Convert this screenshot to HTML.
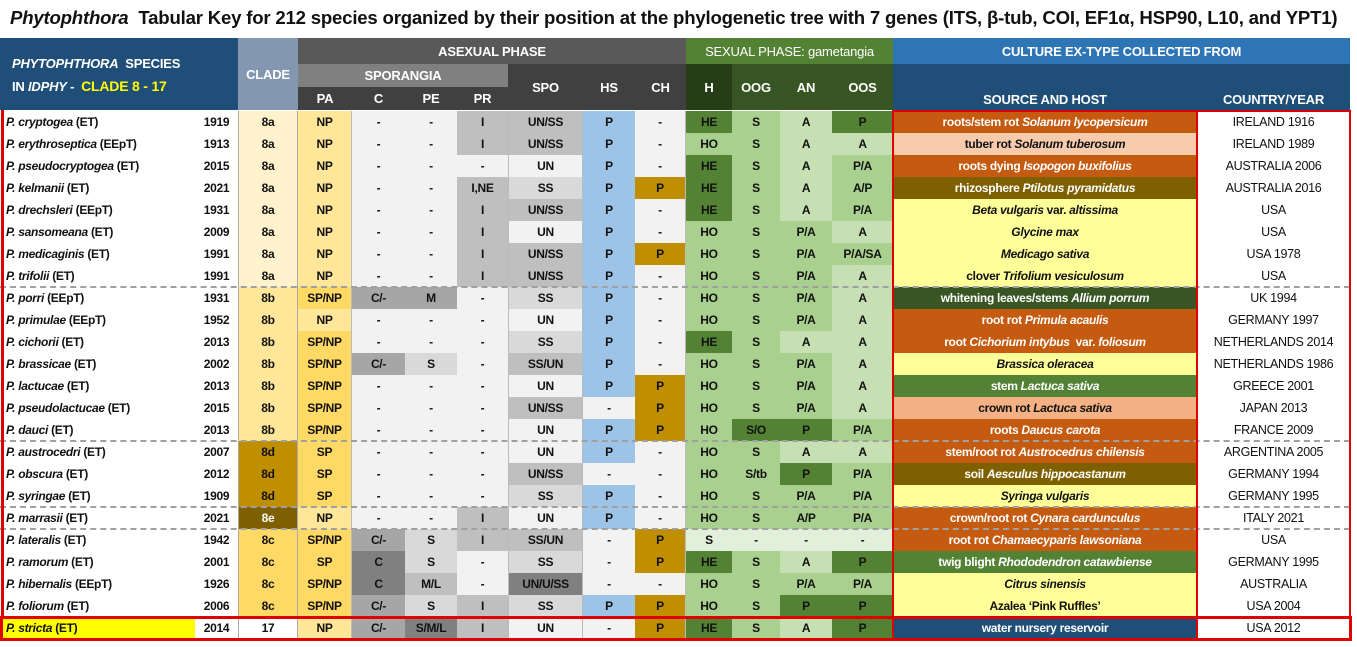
<!DOCTYPE html>
<html><head><meta charset="utf-8"><style>
*{margin:0;padding:0;box-sizing:border-box}
body{width:1357px;height:647px;background:#fff;position:relative;overflow:hidden;font-family:"Liberation Sans",sans-serif;color:#111}
.t{position:absolute;left:10px;top:7px;font-size:18.6px;font-weight:bold;white-space:nowrap;letter-spacing:-0.2px}
.h{position:absolute;color:#fff;font-weight:bold;font-size:13px;display:flex;align-items:center;justify-content:center;white-space:nowrap;letter-spacing:-0.2px}
.r{position:absolute;left:0;height:22px;display:flex;width:1350px}
.r div{height:22px;display:flex;align-items:center;justify-content:center;font-size:12px;font-weight:bold;white-space:nowrap;letter-spacing:-0.3px;flex:none}
.r .n{width:195px;justify-content:flex-start;padding-left:6px;background:#fff}
.r .y{width:43px;background:#fff}
.c0{width:60px;border-left:1px solid #aaa;border-right:1px solid #aaa}.c1{width:54px;border-right:1px solid #bbb}.c2{width:53px}.c3{width:52px}.c4{width:51px}.c5{width:75px;border-left:1px solid #bbb;border-right:1px solid #bbb}.c6{width:52px}.c7{width:51px;border-right:1px solid #bbb}.c8{width:46px}.c9{width:48px}.c10{width:52px}.c11{width:61px}.c12{width:304px;font-weight:bold}.r .c13{width:153px;background:#fff;font-weight:normal;font-size:12.5px}
.A{background:#fff2cc}.B{background:#ffe699}.D{background:#bf8f00}.E{background:#7f6000;color:#fff}.C{background:#ffd966}.W{background:#fff}
.l{background:#f2f2f2}.g1{background:#d9d9d9}.g2{background:#bfbfbf}.g3{background:#a6a6a6}.g4{background:#808080}
.bl{background:#9dc3e6}.ch{background:#bf8f00}
.G1{background:#548235}.G2{background:#a9d08e}.G3{background:#c6e0b4}.G4{background:#e2efda}
.so{background:#c55a11;color:#fff}.sp{background:#f8cbad}.sb{background:#7f6000;color:#fff}.sy{background:#ffff99}.sd{background:#375623;color:#fff}.sg{background:#548235;color:#fff}.ss{background:#f4b183}.sn{background:#1f4e79;color:#fff}
.dash{position:absolute;left:0;width:1350px;border-top:2px dashed #a0a0a0;height:0}
</style></head><body>
<div class="t"><i>Phytophthora</i>&nbsp; Tabular Key for 212 species organized by their position at the phylogenetic tree with 7 genes (ITS, β-tub, COI, EF1α, HSP90, L10, and YPT1)</div>

<div class="h" style="left:0;top:38px;width:238px;height:72px;background:#1f4e79"></div>
<div class="h" style="left:12px;top:54px;height:18px;font-size:13px"><i>PHYTOPHTHORA</i>&nbsp; SPECIES</div>
<div class="h" style="left:12px;top:77px;height:18px;font-size:13px">IN&nbsp;<i>IDPHY</i>&nbsp;-&nbsp;&nbsp;<span style="color:#ffff00;font-size:14px">CLADE 8 - 17</span></div>
<div class="h" style="left:238px;top:38px;width:60px;height:72px;background:#8497b0;font-size:13px">CLADE</div>
<div class="h" style="left:298px;top:38px;width:388px;height:26px;background:#595959">ASEXUAL PHASE</div>
<div class="h" style="left:298px;top:64px;width:210px;height:23px;background:#808080">SPORANGIA</div>
<div class="h" style="left:298px;top:87px;width:54px;height:23px;background:#404040">PA</div>
<div class="h" style="left:352px;top:87px;width:53px;height:23px;background:#404040">C</div>
<div class="h" style="left:405px;top:87px;width:52px;height:23px;background:#404040">PE</div>
<div class="h" style="left:457px;top:87px;width:51px;height:23px;background:#404040">PR</div>
<div class="h" style="left:508px;top:64px;width:75px;height:46px;background:#404040">SPO</div>
<div class="h" style="left:583px;top:64px;width:52px;height:46px;background:#404040">HS</div>
<div class="h" style="left:635px;top:64px;width:51px;height:46px;background:#404040">CH</div>
<div class="h" style="left:686px;top:38px;width:207px;height:26px;background:#548235;font-weight:normal">SEXUAL PHASE: gametangia</div>
<div class="h" style="left:686px;top:64px;width:46px;height:46px;background:#263d17">H</div>
<div class="h" style="left:732px;top:64px;width:48px;height:46px;background:#375623">OOG</div>
<div class="h" style="left:780px;top:64px;width:52px;height:46px;background:#375623">AN</div>
<div class="h" style="left:832px;top:64px;width:61px;height:46px;background:#375623">OOS</div>
<div class="h" style="left:893px;top:38px;width:457px;height:26px;background:#2e75b6">CULTURE EX-TYPE COLLECTED FROM</div>
<div class="h" style="left:893px;top:64px;width:457px;height:46px;background:#1f4e79"></div>
<div class="h" style="left:893px;top:88px;width:304px;height:22px">SOURCE AND HOST</div>
<div class="h" style="left:1197px;top:88px;width:153px;height:22px">COUNTRY/YEAR</div>

<div class="r" style="top:111px"><div class="n"><i>P. cryptogea</i>&nbsp;(ET)</div><div class="y">1919</div><div class="c0 A">8a</div><div class="c1 B">NP</div><div class="c2 l">-</div><div class="c3 l">-</div><div class="c4 g2">I</div><div class="c5 g2">UN/SS</div><div class="c6 bl">P</div><div class="c7 l">-</div><div class="c8 G1">HE</div><div class="c9 G2">S</div><div class="c10 G3">A</div><div class="c11 G1">P</div><div class="c12 so">roots/stem rot&nbsp;<i>Solanum lycopersicum</i></div><div class="c13">IRELAND 1916</div></div>
<div class="r" style="top:133px"><div class="n"><i>P. erythroseptica</i>&nbsp;(EEpT)</div><div class="y">1913</div><div class="c0 A">8a</div><div class="c1 B">NP</div><div class="c2 l">-</div><div class="c3 l">-</div><div class="c4 g2">I</div><div class="c5 g2">UN/SS</div><div class="c6 bl">P</div><div class="c7 l">-</div><div class="c8 G2">HO</div><div class="c9 G2">S</div><div class="c10 G3">A</div><div class="c11 G3">A</div><div class="c12 sp">tuber rot&nbsp;<i>Solanum tuberosum</i></div><div class="c13">IRELAND 1989</div></div>
<div class="r" style="top:155px"><div class="n"><i>P. pseudocryptogea</i>&nbsp;(ET)</div><div class="y">2015</div><div class="c0 A">8a</div><div class="c1 B">NP</div><div class="c2 l">-</div><div class="c3 l">-</div><div class="c4 l">-</div><div class="c5 l">UN</div><div class="c6 bl">P</div><div class="c7 l">-</div><div class="c8 G1">HE</div><div class="c9 G2">S</div><div class="c10 G3">A</div><div class="c11 G2">P/A</div><div class="c12 so">roots dying&nbsp;<i>Isopogon buxifolius</i></div><div class="c13">AUSTRALIA 2006</div></div>
<div class="r" style="top:177px"><div class="n"><i>P. kelmanii</i>&nbsp;(ET)</div><div class="y">2021</div><div class="c0 A">8a</div><div class="c1 B">NP</div><div class="c2 l">-</div><div class="c3 l">-</div><div class="c4 g2">I,NE</div><div class="c5 g1">SS</div><div class="c6 bl">P</div><div class="c7 ch">P</div><div class="c8 G1">HE</div><div class="c9 G2">S</div><div class="c10 G3">A</div><div class="c11 G2">A/P</div><div class="c12 sb">rhizosphere&nbsp;<i>Ptilotus pyramidatus</i></div><div class="c13">AUSTRALIA 2016</div></div>
<div class="r" style="top:199px"><div class="n"><i>P. drechsleri</i>&nbsp;(EEpT)</div><div class="y">1931</div><div class="c0 A">8a</div><div class="c1 B">NP</div><div class="c2 l">-</div><div class="c3 l">-</div><div class="c4 g2">I</div><div class="c5 g2">UN/SS</div><div class="c6 bl">P</div><div class="c7 l">-</div><div class="c8 G1">HE</div><div class="c9 G2">S</div><div class="c10 G3">A</div><div class="c11 G2">P/A</div><div class="c12 sy"><i>Beta vulgaris</i>&nbsp;var.&nbsp;<i>altissima</i></div><div class="c13">USA</div></div>
<div class="r" style="top:221px"><div class="n"><i>P. sansomeana</i>&nbsp;(ET)</div><div class="y">2009</div><div class="c0 A">8a</div><div class="c1 B">NP</div><div class="c2 l">-</div><div class="c3 l">-</div><div class="c4 g2">I</div><div class="c5 l">UN</div><div class="c6 bl">P</div><div class="c7 l">-</div><div class="c8 G2">HO</div><div class="c9 G2">S</div><div class="c10 G2">P/A</div><div class="c11 G3">A</div><div class="c12 sy"><i>Glycine max</i></div><div class="c13">USA</div></div>
<div class="r" style="top:243px"><div class="n"><i>P. medicaginis</i>&nbsp;(ET)</div><div class="y">1991</div><div class="c0 A">8a</div><div class="c1 B">NP</div><div class="c2 l">-</div><div class="c3 l">-</div><div class="c4 g2">I</div><div class="c5 g2">UN/SS</div><div class="c6 bl">P</div><div class="c7 ch">P</div><div class="c8 G2">HO</div><div class="c9 G2">S</div><div class="c10 G2">P/A</div><div class="c11 G2">P/A/SA</div><div class="c12 sy"><i>Medicago sativa</i></div><div class="c13">USA 1978</div></div>
<div class="r" style="top:265px"><div class="n"><i>P. trifolii</i>&nbsp;(ET)</div><div class="y">1991</div><div class="c0 A">8a</div><div class="c1 B">NP</div><div class="c2 l">-</div><div class="c3 l">-</div><div class="c4 g2">I</div><div class="c5 g2">UN/SS</div><div class="c6 bl">P</div><div class="c7 l">-</div><div class="c8 G2">HO</div><div class="c9 G2">S</div><div class="c10 G2">P/A</div><div class="c11 G3">A</div><div class="c12 sy">clover&nbsp;<i>Trifolium vesiculosum</i></div><div class="c13">USA</div></div>

<div class="r" style="top:287px"><div class="n"><i>P. porri</i>&nbsp;(EEpT)</div><div class="y">1931</div><div class="c0 B">8b</div><div class="c1 C">SP/NP</div><div class="c2 g3">C/-</div><div class="c3 g3">M</div><div class="c4 l">-</div><div class="c5 g1">SS</div><div class="c6 bl">P</div><div class="c7 l">-</div><div class="c8 G2">HO</div><div class="c9 G2">S</div><div class="c10 G2">P/A</div><div class="c11 G3">A</div><div class="c12 sd">whitening leaves/stems&nbsp;<i>Allium porrum</i></div><div class="c13">UK 1994</div></div>
<div class="r" style="top:309px"><div class="n"><i>P. primulae</i>&nbsp;(EEpT)</div><div class="y">1952</div><div class="c0 B">8b</div><div class="c1 B">NP</div><div class="c2 l">-</div><div class="c3 l">-</div><div class="c4 l">-</div><div class="c5 l">UN</div><div class="c6 bl">P</div><div class="c7 l">-</div><div class="c8 G2">HO</div><div class="c9 G2">S</div><div class="c10 G2">P/A</div><div class="c11 G3">A</div><div class="c12 so">root rot&nbsp;<i>Primula acaulis</i></div><div class="c13">GERMANY 1997</div></div>
<div class="r" style="top:331px"><div class="n"><i>P. cichorii</i>&nbsp;(ET)</div><div class="y">2013</div><div class="c0 B">8b</div><div class="c1 C">SP/NP</div><div class="c2 l">-</div><div class="c3 l">-</div><div class="c4 l">-</div><div class="c5 g1">SS</div><div class="c6 bl">P</div><div class="c7 l">-</div><div class="c8 G1">HE</div><div class="c9 G2">S</div><div class="c10 G3">A</div><div class="c11 G3">A</div><div class="c12 so">root&nbsp;<i>Cichorium intybus</i>&nbsp; var.&nbsp;<i>foliosum</i></div><div class="c13">NETHERLANDS 2014</div></div>
<div class="r" style="top:353px"><div class="n"><i>P. brassicae</i>&nbsp;(ET)</div><div class="y">2002</div><div class="c0 B">8b</div><div class="c1 C">SP/NP</div><div class="c2 g3">C/-</div><div class="c3 g1">S</div><div class="c4 l">-</div><div class="c5 g2">SS/UN</div><div class="c6 bl">P</div><div class="c7 l">-</div><div class="c8 G2">HO</div><div class="c9 G2">S</div><div class="c10 G2">P/A</div><div class="c11 G3">A</div><div class="c12 sy"><i>Brassica oleracea</i></div><div class="c13">NETHERLANDS 1986</div></div>
<div class="r" style="top:375px"><div class="n"><i>P. lactucae</i>&nbsp;(ET)</div><div class="y">2013</div><div class="c0 B">8b</div><div class="c1 C">SP/NP</div><div class="c2 l">-</div><div class="c3 l">-</div><div class="c4 l">-</div><div class="c5 l">UN</div><div class="c6 bl">P</div><div class="c7 ch">P</div><div class="c8 G2">HO</div><div class="c9 G2">S</div><div class="c10 G2">P/A</div><div class="c11 G3">A</div><div class="c12 sg">stem&nbsp;<i>Lactuca sativa</i></div><div class="c13">GREECE 2001</div></div>
<div class="r" style="top:397px"><div class="n"><i>P. pseudolactucae</i>&nbsp;(ET)</div><div class="y">2015</div><div class="c0 B">8b</div><div class="c1 C">SP/NP</div><div class="c2 l">-</div><div class="c3 l">-</div><div class="c4 l">-</div><div class="c5 g2">UN/SS</div><div class="c6 l">-</div><div class="c7 ch">P</div><div class="c8 G2">HO</div><div class="c9 G2">S</div><div class="c10 G2">P/A</div><div class="c11 G3">A</div><div class="c12 ss">crown rot&nbsp;<i>Lactuca sativa</i></div><div class="c13">JAPAN 2013</div></div>
<div class="r" style="top:419px"><div class="n"><i>P. dauci</i>&nbsp;(ET)</div><div class="y">2013</div><div class="c0 B">8b</div><div class="c1 C">SP/NP</div><div class="c2 l">-</div><div class="c3 l">-</div><div class="c4 l">-</div><div class="c5 l">UN</div><div class="c6 bl">P</div><div class="c7 ch">P</div><div class="c8 G2">HO</div><div class="c9 G1">S/O</div><div class="c10 G1">P</div><div class="c11 G2">P/A</div><div class="c12 so">roots&nbsp;<i>Daucus carota</i></div><div class="c13">FRANCE 2009</div></div>

<div class="r" style="top:441px"><div class="n"><i>P. austrocedri</i>&nbsp;(ET)</div><div class="y">2007</div><div class="c0 D">8d</div><div class="c1 C">SP</div><div class="c2 l">-</div><div class="c3 l">-</div><div class="c4 l">-</div><div class="c5 l">UN</div><div class="c6 bl">P</div><div class="c7 l">-</div><div class="c8 G2">HO</div><div class="c9 G2">S</div><div class="c10 G3">A</div><div class="c11 G3">A</div><div class="c12 so">stem/root rot&nbsp;<i>Austrocedrus chilensis</i></div><div class="c13">ARGENTINA 2005</div></div>
<div class="r" style="top:463px"><div class="n"><i>P. obscura</i>&nbsp;(ET)</div><div class="y">2012</div><div class="c0 D">8d</div><div class="c1 C">SP</div><div class="c2 l">-</div><div class="c3 l">-</div><div class="c4 l">-</div><div class="c5 g2">UN/SS</div><div class="c6 l">-</div><div class="c7 l">-</div><div class="c8 G2">HO</div><div class="c9 G2">S/tb</div><div class="c10 G1">P</div><div class="c11 G2">P/A</div><div class="c12 sb">soil&nbsp;<i>Aesculus hippocastanum</i></div><div class="c13">GERMANY 1994</div></div>
<div class="r" style="top:485px"><div class="n"><i>P. syringae</i>&nbsp;(ET)</div><div class="y">1909</div><div class="c0 D">8d</div><div class="c1 C">SP</div><div class="c2 l">-</div><div class="c3 l">-</div><div class="c4 l">-</div><div class="c5 g1">SS</div><div class="c6 bl">P</div><div class="c7 l">-</div><div class="c8 G2">HO</div><div class="c9 G2">S</div><div class="c10 G2">P/A</div><div class="c11 G2">P/A</div><div class="c12 sy"><i>Syringa vulgaris</i></div><div class="c13">GERMANY 1995</div></div>

<div class="r" style="top:507px"><div class="n"><i>P. marrasii</i>&nbsp;(ET)</div><div class="y">2021</div><div class="c0 E">8e</div><div class="c1 B">NP</div><div class="c2 l">-</div><div class="c3 l">-</div><div class="c4 g2">I</div><div class="c5 l">UN</div><div class="c6 bl">P</div><div class="c7 l">-</div><div class="c8 G2">HO</div><div class="c9 G2">S</div><div class="c10 G2">A/P</div><div class="c11 G2">P/A</div><div class="c12 so">crown/root rot&nbsp;<i>Cynara cardunculus</i></div><div class="c13">ITALY 2021</div></div>

<div class="r" style="top:529px"><div class="n"><i>P. lateralis</i>&nbsp;(ET)</div><div class="y">1942</div><div class="c0 C">8c</div><div class="c1 C">SP/NP</div><div class="c2 g3">C/-</div><div class="c3 g1">S</div><div class="c4 g2">I</div><div class="c5 g2">SS/UN</div><div class="c6 l">-</div><div class="c7 ch">P</div><div class="c8 G4">S</div><div class="c9 G4">-</div><div class="c10 G4">-</div><div class="c11 G4">-</div><div class="c12 so">root rot&nbsp;<i>Chamaecyparis lawsoniana</i></div><div class="c13">USA</div></div>
<div class="r" style="top:551px"><div class="n"><i>P. ramorum</i>&nbsp;(ET)</div><div class="y">2001</div><div class="c0 C">8c</div><div class="c1 C">SP</div><div class="c2 g4">C</div><div class="c3 g1">S</div><div class="c4 l">-</div><div class="c5 g1">SS</div><div class="c6 l">-</div><div class="c7 ch">P</div><div class="c8 G1">HE</div><div class="c9 G2">S</div><div class="c10 G3">A</div><div class="c11 G1">P</div><div class="c12 sg">twig blight&nbsp;<i>Rhododendron catawbiense</i></div><div class="c13">GERMANY 1995</div></div>
<div class="r" style="top:573px"><div class="n"><i>P. hibernalis</i>&nbsp;(EEpT)</div><div class="y">1926</div><div class="c0 C">8c</div><div class="c1 C">SP/NP</div><div class="c2 g4">C</div><div class="c3 g2">M/L</div><div class="c4 l">-</div><div class="c5 g4">UN/U/SS</div><div class="c6 l">-</div><div class="c7 l">-</div><div class="c8 G2">HO</div><div class="c9 G2">S</div><div class="c10 G2">P/A</div><div class="c11 G2">P/A</div><div class="c12 sy"><i>Citrus sinensis</i></div><div class="c13">AUSTRALIA</div></div>
<div class="r" style="top:595px"><div class="n"><i>P. foliorum</i>&nbsp;(ET)</div><div class="y">2006</div><div class="c0 C">8c</div><div class="c1 C">SP/NP</div><div class="c2 g3">C/-</div><div class="c3 g1">S</div><div class="c4 g2">I</div><div class="c5 g1">SS</div><div class="c6 bl">P</div><div class="c7 ch">P</div><div class="c8 G2">HO</div><div class="c9 G2">S</div><div class="c10 G1">P</div><div class="c11 G1">P</div><div class="c12 sy">Azalea ‘Pink Ruffles’</div><div class="c13">USA 2004</div></div>
<div class="r" style="top:617px"><div class="n" style="background:#ffff00"><i>P. stricta</i>&nbsp;(ET)</div><div class="y">2014</div><div class="c0 W">17</div><div class="c1 B">NP</div><div class="c2 g3">C/-</div><div class="c3 g4">S/M/L</div><div class="c4 g2">I</div><div class="c5 l">UN</div><div class="c6 l">-</div><div class="c7 ch">P</div><div class="c8 G1">HE</div><div class="c9 G2">S</div><div class="c10 G3">A</div><div class="c11 G1">P</div><div class="c12 sn">water nursery reservoir</div><div class="c13">USA 2012</div></div>

<div class="dash" style="top:286px"></div>
<div class="dash" style="top:440px"></div>
<div class="dash" style="top:506px"></div>
<div class="dash" style="top:528px"></div>

<div style="position:absolute;left:1px;top:110px;width:3px;height:508px;background:#e00000"></div>
<div style="position:absolute;left:892px;top:110px;width:306px;height:508px;border:2px solid #e00000"></div>
<div style="position:absolute;left:1196px;top:110px;width:155px;height:508px;border:2px solid #e00000"></div>
<div style="position:absolute;left:0;top:616px;width:1352px;height:25px;border:3px solid #e00000"></div>
<div style="position:absolute;left:892px;top:616px;width:306px;height:25px;border:2px solid #e00000"></div>
</body></html>
